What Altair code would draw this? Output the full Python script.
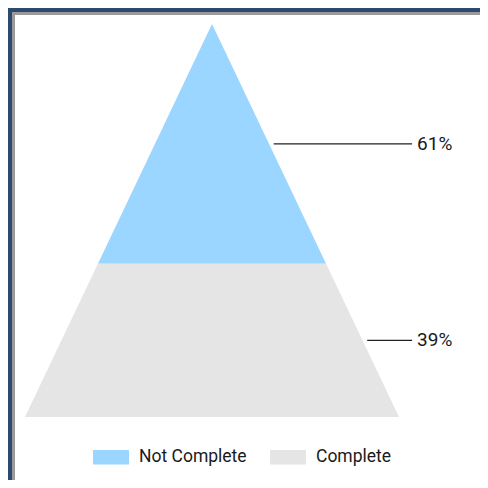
import altair as alt
import pandas as pd

categories = ["Not Complete", "Complete"]
values = [61, 39]
colors = ["#9ad6ff", "#e5e5e5"]
label_texts = ["61%", "39%"]

total = sum(values)
rows, lab_rows = [], []
start = 0
for c, v, t in zip(categories, values, label_texts):
    d0, d1 = start, start + v
    for d in (d0, d1):
        h = d / total
        rows.append({"cat": c, "depth": d, "xl": -h, "xr": h})
    mid = (d0 + d1) / 2
    lab_rows.append({"cat": c, "depth": mid, "edge": mid / total + 0.025, "lx": 1.07, "label": t})
    start = d1

df = pd.DataFrame(rows)
ldf = pd.DataFrame(lab_rows)

xs = alt.Scale(domain=[-1, 1], range=[17, 391])
ys = alt.Scale(domain=[0, total], range=[16, 409])

area = alt.Chart(df).mark_area(orient="horizontal", opacity=1).encode(
    y=alt.Y("depth:Q", scale=ys, axis=None),
    x=alt.X("xl:Q", scale=xs, axis=None),
    x2="xr:Q",
    color=alt.Color("cat:N", scale=alt.Scale(domain=categories, range=colors),
                    sort=categories,
                    legend=alt.Legend(orient="none", legendX=85, legendY=431, direction="horizontal",
                                      title=None, symbolType="M-1,-0.4H1V0.4H-1Z", symbolSize=1296,
                                      symbolStrokeWidth=0, symbolOpacity=1, labelFontSize=17.5,
                                      labelFont="Roboto", labelColor="#1a1a1a", labelOffset=10,
                                      columnPadding=23)),
    detail="cat:N",
)

rules = alt.Chart(ldf).mark_rule(color="#222222", strokeWidth=1.3).encode(
    y=alt.Y("depth:Q", scale=ys, axis=None),
    x=alt.X("edge:Q", scale=xs, axis=None),
    x2="lx:Q",
)

texts = alt.Chart(ldf).mark_text(align="left", baseline="middle", dx=5, fontSize=19,
                                 font="Roboto", color="#1a1a1a").encode(
    y=alt.Y("depth:Q", scale=ys, axis=None),
    x=alt.X("lx:Q", scale=xs, axis=None),
    text="label:N",
)

frame_df = pd.DataFrame({"k": [0]})
frame_left = alt.Chart(frame_df).mark_rect(color="#2d4a6e").encode(
    x=alt.value(0), x2=alt.value(4), y=alt.value(0), y2=alt.value(480))
frame_top = alt.Chart(frame_df).mark_rect(color="#2d4a6e").encode(
    x=alt.value(0), x2=alt.value(480), y=alt.value(0), y2=alt.value(4))
frame_left2 = alt.Chart(frame_df).mark_rect(color="#9a9a9a").encode(
    x=alt.value(4), x2=alt.value(7), y=alt.value(4), y2=alt.value(480))
frame_top2 = alt.Chart(frame_df).mark_rect(color="#9a9a9a").encode(
    x=alt.value(4), x2=alt.value(480), y=alt.value(4), y2=alt.value(7))

chart = alt.layer(area, rules, texts, frame_left, frame_top, frame_left2, frame_top2).properties(
    width=472, height=472, autosize=alt.AutoSizeParams(type="none"), padding=0
).configure_view(stroke=None)

chart.save("out.html", embed_options={"renderer": "svg", "actions": False})
